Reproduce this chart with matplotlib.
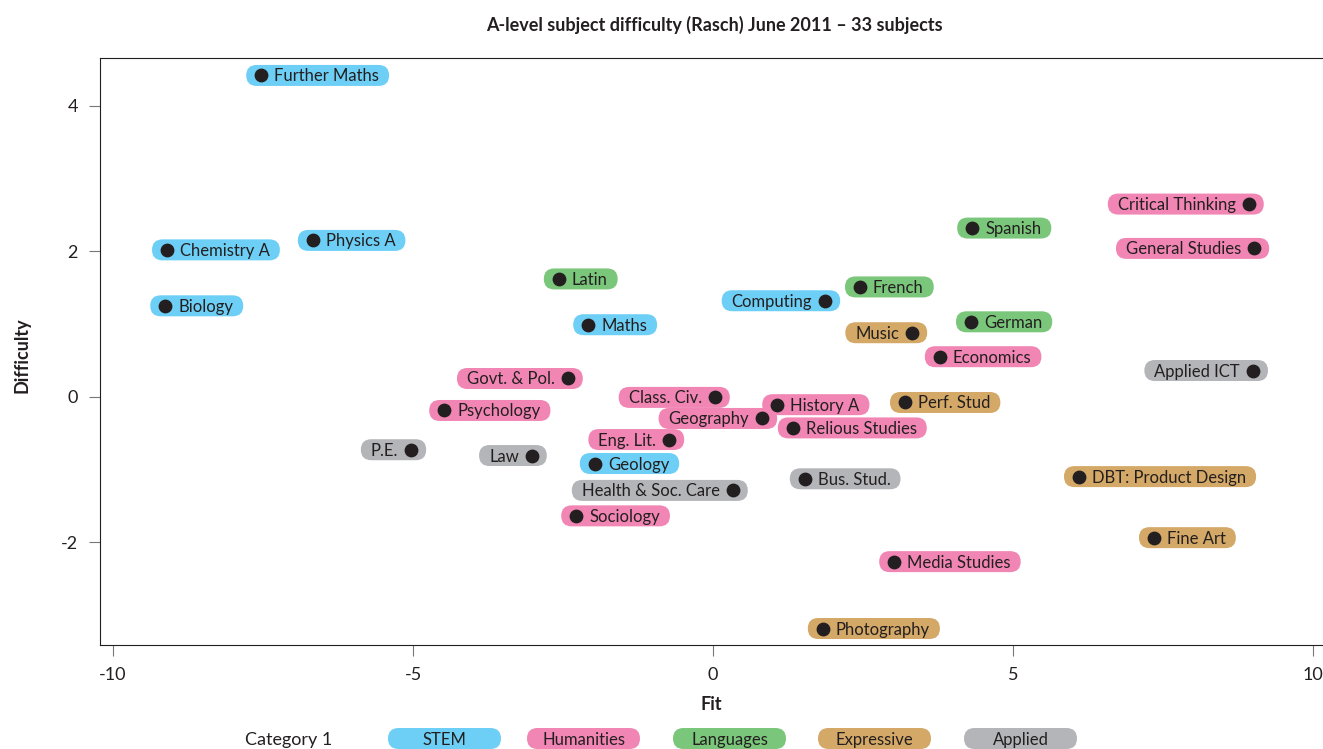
import matplotlib
matplotlib.use('Agg')
import matplotlib.pyplot as plt
from matplotlib.patches import FancyBboxPatch
from matplotlib.transforms import IdentityTransform

plt.rcParams['font.family'] = ['Lato', 'DejaVu Sans']
plt.rcParams['axes.unicode_minus'] = False

# data
subjects = ['Further Maths', 'Chemistry A', 'Physics A', 'Biology', 'Latin', 'Maths',
            'Computing', 'French', 'Spanish', 'German', 'Music', 'Economics',
            'Critical Thinking', 'General Studies', 'Applied ICT', 'Govt. & Pol.',
            'Psychology', 'Class. Civ.', 'History A', 'Geography', 'Relious Studies',
            'Perf. Stud', 'Eng. Lit.', 'P.E.', 'Law', 'Geology', 'Health & Soc. Care',
            'Bus. Stud.', 'DBT: Product Design', 'Sociology', 'Fine Art',
            'Media Studies', 'Photography']
fit = [-7.53, -9.10, -6.67, -9.13, -2.57, -2.08,
       1.87, 2.45, 4.32, 4.30, 3.32, 3.78,
       8.93, 9.02, 9.00, -2.42,
       -4.48, 0.03, 1.07, 0.82, 1.33,
       3.20, -0.73, -5.03, -3.02, -1.97, 0.33,
       1.53, 6.10, -2.28, 7.35,
       3.02, 1.83]
difficulty = [4.42, 2.02, 2.15, 1.25, 1.62, 0.99,
              1.32, 1.51, 2.32, 1.03, 0.88, 0.55,
              2.65, 2.04, 0.36, 0.25,
              -0.19, -0.01, -0.11, -0.30, -0.43,
              -0.08, -0.59, -0.73, -0.81, -0.92, -1.29,
              -1.13, -1.10, -1.64, -1.94,
              -2.27, -3.19]
category = ['STEM', 'STEM', 'STEM', 'STEM', 'Languages', 'STEM',
            'STEM', 'Languages', 'Languages', 'Languages', 'Expressive', 'Humanities',
            'Humanities', 'Humanities', 'Applied', 'Humanities',
            'Humanities', 'Humanities', 'Humanities', 'Humanities', 'Humanities',
            'Expressive', 'Humanities', 'Applied', 'Applied', 'STEM', 'Applied',
            'Applied', 'Expressive', 'Humanities', 'Expressive',
            'Humanities', 'Expressive']
side = ['r', 'r', 'r', 'r', 'r', 'r',
        'l', 'r', 'r', 'r', 'l', 'r',
        'l', 'l', 'l', 'l',
        'r', 'l', 'r', 'l', 'r',
        'r', 'l', 'l', 'l', 'r', 'l',
        'r', 'r', 'r', 'r',
        'r', 'r']

cat_names = ['STEM', 'Humanities', 'Languages', 'Expressive', 'Applied']
cat_colors = {'STEM': '#6dcff6', 'Humanities': '#f186b4', 'Languages': '#7ac67a',
              'Expressive': '#d4a866', 'Applied': '#b4b5b8'}
ink = '#231f20'

W, H = 1323, 749
fig = plt.figure(figsize=(W / 100, H / 100), dpi=100)
ax = fig.add_axes([100 / W, (H - 645) / H, 1223 / W, 587 / H])
ax.set_xlim(-10.217, 10.167)
ax.set_ylim(-3.417, 4.66)
ax.set_xticks([-10, -5, 0, 5, 10])
ax.set_yticks([-2, 0, 2, 4])
ax.tick_params(length=8, color='#777777', labelsize=13, labelcolor=ink, pad=8)
for s in ['left', 'top', 'bottom']:
    ax.spines[s].set_color(ink)
ax.spines['right'].set_visible(False)

fig.text(714 / W, (H - 25) / H, 'A-level subject difficulty (Rasch) June 2011 – 33 subjects',
         fontsize=13, fontweight='bold', color=ink, ha='center', va='center')
ax.set_xlabel('Fit', fontsize=13, fontweight='bold', color=ink)
ax.set_ylabel('Difficulty', fontsize=13, fontweight='bold', color=ink)
ax.xaxis.set_label_coords(0.5, -(705 - 645) / 587)
ax.yaxis.set_label_coords(-(100 - 22) / 1223, (645 - 355) / 587)
ax.xaxis.label.set_va('center')
ax.yaxis.label.set_va('center')

ax.scatter(fit, difficulty, s=80, color=ink, zorder=5)

texts = []
for name, x, y, sd in zip(subjects, fit, difficulty, side):
    off = 13 if sd == 'r' else -13
    t = ax.annotate(name, (x, y), xytext=(off, -1), textcoords='offset pixels',
                    ha='left' if sd == 'r' else 'right', va='center',
                    fontsize=12, color=ink, zorder=4)
    texts.append(t)

fig.canvas.draw()
r = fig.canvas.get_renderer()
ph = 21
for t, x, y, sd, c in zip(texts, fit, difficulty, side, category):
    bb = t.get_window_extent(r)
    px, py = ax.transData.transform((x, y))
    if sd == 'r':
        x0, x1 = px - 15, bb.x1 + 10
    else:
        x0, x1 = bb.x0 - 10, px + 15
    p = FancyBboxPatch((x0, py - ph / 2), x1 - x0, ph,
                       boxstyle='round,pad=0,rounding_size=%f' % (ph / 2),
                       transform=IdentityTransform(), facecolor=cat_colors[c],
                       edgecolor='none', zorder=3, clip_on=False)
    ax.add_patch(p)

# legend row at the bottom
fig.text(245 / W, 9 / H, 'Category 1', fontsize=13, color=ink, va='center')
leg_x = [388, 527, 673, 818, 964]
for cn, lx in zip(cat_names, leg_x):
    p = FancyBboxPatch((lx, 0), 113, ph, boxstyle='round,pad=0,rounding_size=10.5',
                       transform=IdentityTransform(), facecolor=cat_colors[cn],
                       edgecolor='none', figure=fig)
    fig.patches.append(p)
    fig.text((lx + 56.5) / W, 9 / H, cn, fontsize=12, color=ink, ha='center', va='center')

fig.savefig('out.png', dpi=100)
